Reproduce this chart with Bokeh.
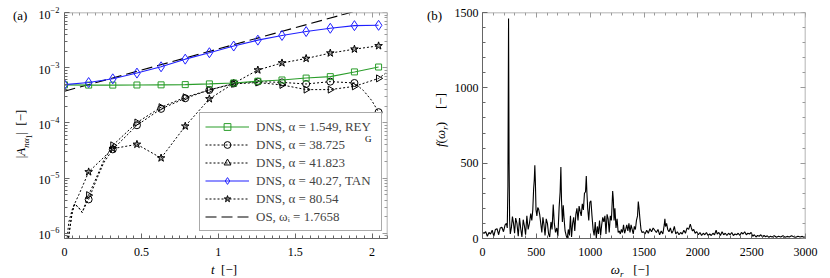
import math
from bokeh.plotting import figure
from bokeh.models import (FixedTicker, LinearAxis, LogAxis, Legend, LegendItem, Div)
from bokeh.layouts import row
from bokeh.embed import file_html
from bokeh.resources import INLINE

FONT = "Liberation Serif"

# ---------------- panel (a) data ----------------
t_marks = [0.0, 0.157, 0.314, 0.471, 0.628, 0.785, 0.942, 1.100, 1.257, 1.414, 1.571, 1.728, 1.885, 2.042]
a_rey = [4.9e-4, 4.85e-4, 4.85e-4, 4.87e-4, 4.9e-4, 4.95e-4, 5.1e-4, 5.3e-4, 5.7e-4, 6.0e-4, 6.5e-4, 6.9e-4, 8.4e-4, 1.03e-3]
a_tan = [4.95e-4, 5.4e-4, 6.3e-4, 8.0e-4, 1.04e-3, 1.43e-3, 1.87e-3, 2.47e-3, 3.16e-3, 3.84e-3, 4.52e-3, 5.18e-3, 5.78e-3, 5.86e-3]

t_blk = [0.157, 0.314, 0.471, 0.628, 0.785, 0.942, 1.100, 1.257, 1.414, 1.571, 1.728, 1.885, 2.042]
a_circ = [4.13e-6, 3.33e-5, 9.1e-5, 1.8e-4, 2.8e-4, 3.96e-4, 5.2e-4, 5.6e-4, 5.43e-4, 5.08e-4, 5.6e-4, 5.3e-4, 1.57e-4]
a_tri = [4.94e-6, 3.94e-5, 1.02e-4, 1.93e-4, 2.92e-4, 3.96e-4, 5.1e-4, 5.4e-4, 4.88e-4, 4.02e-4, 4.02e-4, 4.6e-4, 6.41e-4]
a_star = [1.30e-5, 3.43e-5, 4.10e-5, 2.32e-5, 8.75e-5, 2.73e-4, 5.21e-4, 9.09e-4, 1.22e-3, 1.47e-3, 1.84e-3, 2.17e-3, 2.49e-3]

circ_line_t = [0.020, 0.034, 0.050, 0.065, 0.090, 0.115, 0.143, 0.157, 0.212, 0.255, 0.314, 0.471, 0.628, 0.785,
               0.942, 1.100, 1.257, 1.414, 1.571, 1.728, 1.885, 1.944, 1.998, 2.042]
circ_line_a = [6e-7, 1.2e-6, 2.4e-6, 3.4e-6, 3.0e-6, 2.4e-6, 3.5e-6, 4.13e-6, 1.0e-5, 1.9e-5, 3.33e-5, 9.1e-5, 1.8e-4,
               2.8e-4, 3.96e-4, 5.2e-4, 5.6e-4, 5.43e-4, 5.08e-4, 5.6e-4, 5.3e-4, 3.86e-4, 2.54e-4, 1.57e-4]
tri_line_t = [0.020, 0.034, 0.050, 0.065, 0.090, 0.115, 0.143, 0.157, 0.212, 0.255, 0.314, 0.471, 0.628, 0.785,
              0.942, 1.100, 1.257, 1.414, 1.571, 1.728, 1.885, 2.042, 2.095]
tri_line_a = [6e-7, 1.2e-6, 2.4e-6, 3.4e-6, 3.0e-6, 2.4e-6, 3.9e-6, 4.94e-6, 1.1e-5, 2.1e-5, 3.94e-5, 1.02e-4, 1.93e-4,
              2.92e-4, 3.96e-4, 5.1e-4, 5.4e-4, 4.88e-4, 4.02e-4, 4.02e-4, 4.6e-4, 6.41e-4, 8.2e-4]
star_line_t = [0.012, 0.028, 0.050, 0.071, 0.093, 0.115, 0.157, 0.314, 0.471, 0.628, 0.785, 0.942, 1.100, 1.257,
               1.414, 1.571, 1.728, 1.885, 2.042]
star_line_a = [6e-7, 1.6e-6, 2.7e-6, 3.7e-6, 5.0e-6, 6.9e-6, 1.30e-5, 3.43e-5, 4.10e-5, 2.32e-5, 8.75e-5, 2.73e-4,
               5.21e-4, 9.09e-4, 1.22e-3, 1.47e-3, 1.84e-3, 2.17e-3, 2.49e-3]

os_t = [0.0, 2.1]
os_a = [3.75e-4, 1.53e-2]

labels_a = ["DNS, α = 1.549, REY", "DNS, α = 38.725", "DNS, α = 41.823",
            "DNS, α = 40.27, TAN", "DNS, α = 80.54", "OS, ωᵢ = 1.7658"]

a_x_major = [0, 0.5, 1, 1.5, 2]
a_x_minor = [i * 0.05 for i in range(0, 43)]
a_y_major = [1e-6, 1e-5, 1e-4, 1e-3, 1e-2]
a_y_minor = [m * 10.0 ** e for e in range(-7, -2) for m in range(2, 10)]

# ---------------- panel (b) data ----------------
w_spec = [0, 15, 30, 45, 60, 75, 90, 105, 120, 135, 150, 165, 180, 195, 210, 222, 230, 236, 242, 247, 252, 258, 268,
          278, 288, 298, 308, 320, 332, 344, 356, 366, 378, 390, 400, 412, 424, 436, 448, 458, 467, 475, 481, 486, 491,
          497, 505, 513, 521, 531, 541, 551, 561, 571, 581, 592, 603, 614, 624, 636, 646, 657, 667, 678, 690, 700, 712,
          721, 728, 734, 742, 750, 758, 767, 777, 787, 797, 807, 817, 827, 837, 847, 857, 867, 877, 887, 897, 907, 917,
          927, 937, 947, 957, 964, 970, 977, 987, 997, 1007, 1017, 1027, 1037, 1047, 1057, 1067, 1077, 1087, 1097,
          1107, 1117, 1127, 1137, 1147, 1157, 1167, 1177, 1187, 1197, 1204, 1209, 1215, 1222, 1230, 1240, 1250, 1260,
          1270, 1280, 1290, 1300, 1310, 1320, 1330, 1340, 1350, 1360, 1370, 1380, 1390, 1400, 1410, 1420, 1430, 1440,
          1447, 1454, 1462, 1472, 1482, 1495, 1510, 1525, 1540, 1555, 1570, 1585, 1600, 1615, 1630, 1645, 1660, 1675,
          1688, 1694, 1700, 1710, 1720, 1732, 1745, 1758, 1770, 1782, 1795, 1810, 1825, 1840, 1855, 1870, 1885, 1900,
          1915, 1930, 1940, 1950, 1962, 1975, 1990, 2005, 2020, 2035, 2050, 2065, 2080, 2095, 2110, 2125, 2140, 2155,
          2170, 2180, 2195, 2210, 2225, 2240, 2255, 2270, 2285, 2300, 2315, 2330, 2345, 2360, 2375, 2390, 2405, 2420,
          2435, 2450, 2465, 2480, 2495, 2510, 2525, 2540, 2555, 2570, 2585, 2600, 2615, 2630, 2645, 2660, 2675, 2690,
          2710, 2730, 2750, 2770, 2790, 2810, 2830, 2850, 2870, 2890, 2910, 2930, 2950, 2970, 2985, 3000]
f_spec = [40, 35, 45, 15, 40, 30, 55, 15, 60, 65, 25, 70, 75, 45, 90, 100, 70, 350, 1460, 500, 120, 30, 70,
          145, 100, 35, 135, 100, 15, 135, 60, 10, 125, 80, 25, 150, 60, 100, 165, 120, 190, 330, 390, 486, 380,
          190, 150, 205, 195, 160, 100, 40, 140, 90, 20, 130, 100, 30, 10, 110, 60, 225, 100, 40, 70, 15, 210,
          310, 475, 250, 110, 220, 130, 50, 20, 0, 60, 20, 150, 10, 100, 140, 50, 160, 200, 120, 215, 180, 150,
          230, 190, 300, 310, 415, 300, 200, 120, 240, 250, 150, 60, 20, 110, 0, 80, 30, 120, 20,
          90, 140, 110, 150, 30, 160, 130, 40, 150, 120, 230, 315, 260, 120, 200, 70, 130, 40,
          50, 30, 60, 40, 90, 35, 60, 90, 50, 100, 40, 90, 60, 30, 80, 60, 120, 150,
          245, 200, 130, 60, 40, 45, 30, 55, 35, 65, 45, 70, 55, 40, 60, 25, 50, 30,
          90, 130, 80, 100, 60, 45, 70, 35, 50, 80, 30, 45, 25, 40, 30, 55, 35, 70,
          60, 95, 70, 50, 60, 35, 45, 25, 40, 20, 35, 25, 40, 20, 30, 20, 35, 25,
          55, 30, 40, 20, 45, 25, 35, 20, 35, 25, 40, 20, 30, 25, 35, 20, 40, 30,
          45, 25, 35, 30, 40, 15, 25, 10, 20, 15, 25, 10, 20, 12, 18, 8, 15, 10,
          18, 8, 15, 10, 18, 8, 14, 10, 18, 12, 8, 15, 10, 14, 8, 12]

b_x_major = [0, 500, 1000, 1500, 2000, 2500, 3000]
b_x_minor = list(range(0, 3001, 100))
b_y_major = [0, 500, 1000, 1500]
b_y_minor = list(range(0, 1501, 100))

AX = "#666666"
AX2 = "#9a9a9a"


def style_axis(ax, major, minor, color=AX, width=1, show_labels=True, standoff=5):
    ax.ticker = FixedTicker(ticks=major, minor_ticks=minor)
    ax.axis_line_color = color
    ax.axis_line_width = width
    ax.major_tick_line_color = color
    ax.minor_tick_line_color = color
    ax.major_tick_in = 5
    ax.major_tick_out = 0
    ax.minor_tick_in = 3
    ax.minor_tick_out = 0
    ax.major_label_text_font = FONT
    ax.major_label_text_font_size = "12px"
    ax.major_label_text_color = "black" if show_labels else None
    ax.major_label_standoff = standoff


def tag(html, left, top, size, center=False, rotate=False):
    """Free-standing page text (panel tags, axis titles with sub-scripts)."""
    styles = {"position": "absolute", "left": f"{left}px", "top": f"{top}px",
              "font-family": FONT, "font-size": f"{size}px", "line-height": f"{size}px",
              "color": "black", "white-space": "nowrap", "z-index": "10"}
    if center:
        styles["transform"] = "translate(-50%, -50%)" + (" rotate(-90deg)" if rotate else "")
    return Div(text=html, margin=0, styles=styles)


SUB = '<sub style="font-size:70%;line-height:0">'

# ---------------- figure (a) ----------------
pa = figure(width=418, height=278, y_axis_type="log", x_range=(0, 2.1), y_range=(8.1e-7, 1e-2),
            output_backend="svg", toolbar_location=None,
            min_border_left=64, min_border_right=31, min_border_top=12, min_border_bottom=40)
pa.outline_line_color = None
pa.grid.visible = False
style_axis(pa.xaxis[0], a_x_major, a_x_minor, standoff=9)
style_axis(pa.yaxis[0], a_y_major, a_y_minor, standoff=5)
ra = LogAxis(fixed_location=2.1)
style_axis(ra, a_y_major, a_y_minor, color=AX2, width=1.5, show_labels=False)
pa.add_layout(ra, "right")
ta = LinearAxis(fixed_location=1e-2)
style_axis(ta, a_x_major, a_x_minor, color=AX2, width=1.5, show_labels=False)
pa.add_layout(ta, "above")

GREEN = "#2a9d2a"
BLUE = "#2020ff"

r_os = pa.line(os_t, os_a, line_color="black", line_width=1.1, line_dash="11 5")
r_cl = pa.line(circ_line_t, circ_line_a, line_color="black", line_width=1, line_dash="2 2")
r_tl = pa.line(tri_line_t, tri_line_a, line_color="black", line_width=1, line_dash="2 2")
r_sl = pa.line(star_line_t, star_line_a, line_color="black", line_width=1, line_dash="2 2")
r_cm = pa.scatter(t_blk, a_circ, marker="circle", size=7, line_color="black", fill_color=None, line_width=1)
r_tm = pa.scatter(t_blk, a_tri, marker="triangle", angle=-math.pi / 2, size=7, line_color="black",
                  fill_color=None, line_width=1)
r_sm = pa.scatter(t_blk, a_star, marker="star", size=8, line_color="black", fill_color="black", fill_alpha=0.35,
                  line_width=1)
r_gl = pa.line(t_marks, a_rey, line_color=GREEN, line_width=1.1)
r_gm = pa.scatter(t_marks, a_rey, marker="square", size=6, line_color=GREEN, fill_color=None, line_width=1)
r_bl = pa.line(t_marks, a_tan, line_color=BLUE, line_width=1.1)
r_bm = pa.scatter(t_marks, a_tan, marker="diamond", size=10, line_color=BLUE, fill_color=None, line_width=1)

items = [
    LegendItem(label=labels_a[0], renderers=[r_gl, r_gm]),
    LegendItem(label=labels_a[1], renderers=[r_cl, r_cm]),
    LegendItem(label=labels_a[2], renderers=[r_tl, r_tm]),
    LegendItem(label=labels_a[3], renderers=[r_bl, r_bm]),
    LegendItem(label=labels_a[4], renderers=[r_sl, r_sm]),
    LegendItem(label=labels_a[5], renderers=[r_os]),
]
leg = Legend(items=items, location=(135, 7), padding=5, spacing=1, margin=0,
             glyph_width=44, glyph_height=17, label_height=17, label_standoff=7, label_width=120,
             label_text_font=FONT, label_text_font_size="13px",
             border_line_color="#555555", border_line_width=1,
             background_fill_color="white", background_fill_alpha=1.0)
pa.add_layout(leg)

# ---------------- figure (b) ----------------
pb = figure(width=410, height=278, x_range=(0, 3000), y_range=(0, 1500),
            output_backend="svg", toolbar_location=None,
            min_border_left=64, min_border_right=23, min_border_top=12, min_border_bottom=40)
pb.outline_line_color = None
pb.grid.visible = False
style_axis(pb.xaxis[0], b_x_major, b_x_minor, standoff=9)
style_axis(pb.yaxis[0], b_y_major, b_y_minor, standoff=4)
rb = LinearAxis(fixed_location=3000)
style_axis(rb, b_y_major, b_y_minor, color=AX2, width=1.5, show_labels=False)
pb.add_layout(rb, "right")
tb = LinearAxis(fixed_location=1500)
style_axis(tb, b_x_major, b_x_minor, color=AX2, width=1.5, show_labels=False)
pb.add_layout(tb, "above")

pb.line(w_spec, f_spec, line_color="black", line_width=1.1)

texts = [
    tag("(a)", 13, 9, 13),
    tag("(b)", 427, 9, 13),
    tag("G", 365, 135, 9),
    tag(f"|<i>A</i>{SUB}<i>nα</i><sub style=\"font-size:80%\">1</sub></sub>|&nbsp;&nbsp;[−]", 22, 134, 13,
        center=True, rotate=True),
    tag("<i>t</i>&nbsp;&nbsp;[−]", 224, 269, 13, center=True),
    tag(f"<i>f</i>(<i>ω</i>{SUB}<i>r</i></sub>)&nbsp;&nbsp;&nbsp;&nbsp;[−]", 440, 120, 13,
        center=True, rotate=True),
    tag(f"<i>ω</i>{SUB}<i>r</i></sub>&nbsp;&nbsp;&nbsp;[−]", 630, 269, 13, center=True),
]

layout = row(pa, pb, *texts)
open("out.html", "w").write(file_html(layout, INLINE))
